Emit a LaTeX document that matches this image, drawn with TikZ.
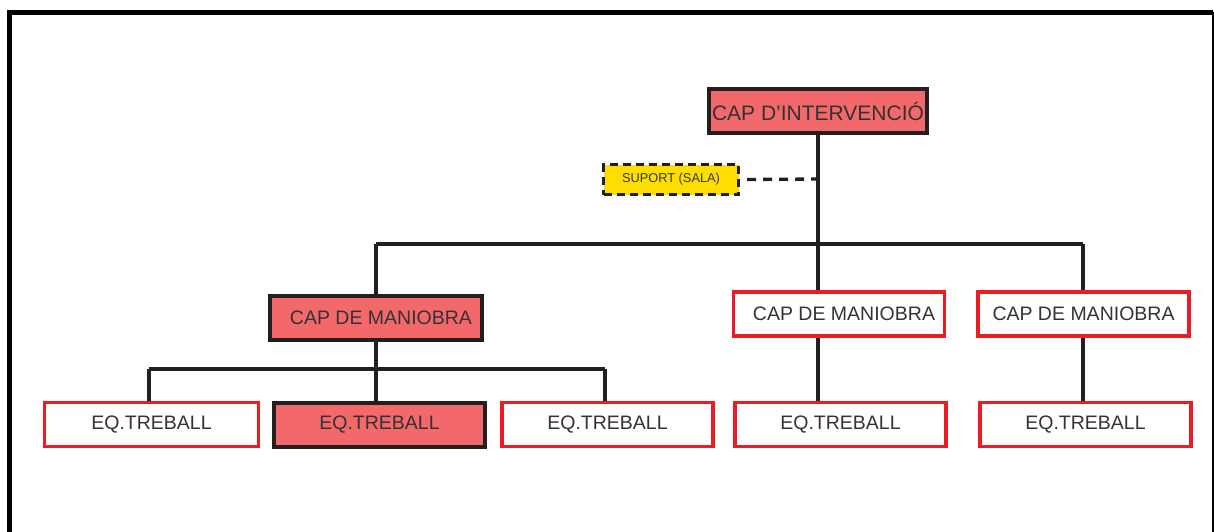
\documentclass[tikz,border=0pt]{standalone}
\usepackage{fontspec}
\setmainfont{Liberation Sans}
\definecolor{redfill}{HTML}{F2686B}
\definecolor{redline}{HTML}{ED1C24}
\definecolor{yel}{HTML}{FFDD00}
\definecolor{txt}{HTML}{333333}
\definecolor{ink}{HTML}{231F20}
\begin{document}
\begin{tikzpicture}[x=1pt,y=-1pt,
  box/.style={rectangle, minimum width=211pt, minimum height=44pt, inner sep=0pt,
    text=txt, font=\fontsize{19.5}{22}\selectfont},
  whitebox/.style={box, draw=redline, line width=3.3pt, fill=white},
  redbox/.style={box, draw=ink, line width=4pt, fill=redfill},
  supbox/.style={rectangle, draw=ink, line width=3pt, dash pattern=on 8pt off 5pt,
    fill=yel, minimum width=135pt, minimum height=30pt, inner sep=0pt,
    text=txt, font=\fontsize{12.8}{14}\selectfont},
  conn/.style={draw=ink, line width=3.3pt},
  dconn/.style={draw=ink, line width=3.3pt, dash pattern=on 9pt off 7pt}]
\useasboundingbox (0,0) rectangle (1214,532);
% frame
\draw[black, line width=5pt] (9.5,560) -- (9.5,12.5) -- (1212.5,12.5);
\draw[black, line width=2pt] (1212.5,12.5) -- (1212.5,560);
% nodes
\node[redbox, minimum width=218pt, font=\fontsize{21}{24}\selectfont] (ci) at (818,111) {CAP D’INTERVENCIÓ};
\node[supbox] (sup) at (671,179.5) {SUPORT (SALA)};
\node[redbox, minimum width=212pt] (cm1) at (376,318) {\hspace{10pt}CAP DE MANIOBRA};
\node[whitebox] (cm2) at (839,314) {\hspace{10pt}CAP DE MANIOBRA};
\node[whitebox] (cm3) at (1083.5,314) {CAP DE MANIOBRA};
\node[whitebox, minimum width=214pt] (eq1) at (151.5,424.5) {EQ.TREBALL};
\node[redbox] (eq2) at (379.5,424.5) {EQ.TREBALL};
\node[whitebox] (eq3) at (607.5,424.5) {EQ.TREBALL};
\node[whitebox] (eq4) at (840.5,424.5) {EQ.TREBALL};
\node[whitebox] (eq5) at (1085.5,424.5) {EQ.TREBALL};
% junctions
\coordinate (jL) at (376,244);
\coordinate (jC) at (818,244);
\coordinate (jR) at (1083,244);
\coordinate (jS) at (818,179);
\coordinate (kL) at (149,369);
\coordinate (kC) at (376,369);
\coordinate (kR) at (605,369);
% connectors
\draw[conn] (ci.south) -- (jC);
\draw[conn] (jL) -- (jR);
\draw[conn] (jL) -- (cm1.north);
\draw[conn] (jC) -- (jC |- cm2.north);
\draw[conn] (jR) -- (jR |- cm3.north);
\draw[dconn] (sup.east) ++(7,0) -- (jS);
\draw[conn] (cm1.south) -- (kC);
\draw[conn] (kL) -- (kR);
\draw[conn] (kL) -- (kL |- eq1.north);
\draw[conn] (kC) -- (kC |- eq2.north);
\draw[conn] (kR) -- (kR |- eq3.north);
\draw[conn] (jC |- cm2.south) -- (jC |- eq4.north);
\draw[conn] (jR |- cm3.south) -- (jR |- eq5.north);
\end{tikzpicture}
\end{document}
